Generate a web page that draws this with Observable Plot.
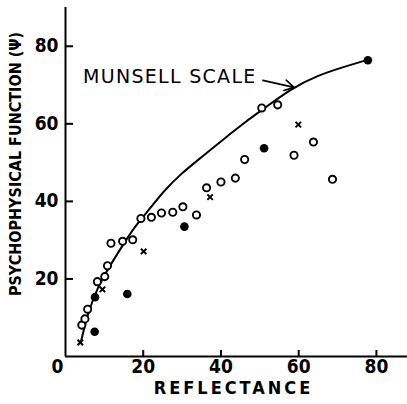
<!DOCTYPE html>
<html>
<head>
<meta charset="utf-8">
<script src="https://cdn.jsdelivr.net/npm/d3@7"></script>
<script src="https://cdn.jsdelivr.net/npm/@observablehq/plot@0.6"></script>
<style>
  html, body { margin: 0; padding: 0; background: #fff; }
  svg { display: block; }
</style>
</head>
<body>
<div id="chart"></div>
<script>
// ---- data ----
const openX = [4.2, 5.0, 5.7, 8.2, 10.1, 10.8, 11.7, 14.7, 17.3, 19.4, 22.1, 24.7, 27.6, 30.2, 33.7, 36.3, 40.0, 43.7, 46.1, 50.5, 54.6, 58.8, 63.8, 68.7];
const openY = [8.1, 9.7, 12.2, 19.3, 20.6, 23.4, 29.2, 29.7, 30.1, 35.6, 35.9, 37.0, 37.2, 38.6, 36.5, 43.5, 45.0, 46.0, 50.8, 64.1, 64.9, 51.9, 55.3, 45.7];
const filledX = [7.5, 7.6, 15.9, 30.6, 51.1, 77.8];
const filledY = [6.4, 15.3, 16.1, 33.5, 53.7, 76.4];
const crossX = [3.8, 9.5, 20.1, 37.2, 59.9];
const crossY = [3.6, 17.3, 27.1, 41.1, 59.8];
const munsellX = [3.9, 5.7, 8.2, 11.7, 16.0, 18.1, 22.0, 25.4, 29.7, 34.0, 38.2, 42.5, 46.8, 49.8, 58.0, 64.9, 71.7, 77.3];
const munsellY = [3.5, 11.0, 17.8, 23.9, 30.7, 33.8, 38.5, 42.8, 47.1, 50.6, 54.0, 57.5, 60.9, 63.0, 69.1, 72.5, 74.7, 76.4];
const xTicks = [0, 20, 40, 60, 80];
const yTicks = [20, 40, 60, 80];
const xLabel = "REFLECTANCE";
const yLabel = "PSYCHOPHYSICAL FUNCTION (Ψ)";
const curveLabel = "MUNSELL SCALE";

const zip = (xs, ys) => xs.map((x, i) => ({x, y: ys[i]}));
const openPts = zip(openX, openY);
const filledPts = zip(filledX, filledY);
const crossPts = zip(crossX, crossY);
const curvePts = zip(munsellX, munsellY);

const FONT = "'DejaVu Sans Condensed', 'DejaVu Sans', sans-serif";
const FONT_WIDE = "'DejaVu Sans', sans-serif";

const chart = Plot.plot({
  width: 407,
  height: 404,
  marginLeft: 65,
  marginRight: 0,
  marginTop: 7,
  marginBottom: 48,
  style: {background: "#fff", color: "#000", fontFamily: FONT},
  x: {domain: [0, 88]},
  y: {domain: [0, 90]},
  marks: [
    Plot.ruleX([0], {stroke: "#000", strokeWidth: 2}),
    Plot.ruleY([0], {stroke: "#000", strokeWidth: 2}),
    Plot.axisY({ticks: yTicks, tickSize: -8, tickPadding: 15, strokeWidth: 2, label: null,
      fontSize: 19, fontWeight: "bold", fontFamily: FONT}),
    Plot.axisX({ticks: xTicks.filter(d => d !== 0), tickSize: -6, tickPadding: 9, strokeWidth: 2, label: null,
      fontSize: 19, fontWeight: "bold", fontFamily: FONT}),
    Plot.axisX({ticks: [0], tickSize: 0, tickPadding: 3, dx: -8, label: null,
      fontSize: 19, fontWeight: "bold", fontFamily: FONT}),
    Plot.text([yLabel], {frameAnchor: "left", textAnchor: "middle", rotate: -90, dx: -50, dy: -18,
      fontSize: 16, fontWeight: "bold", fontFamily: FONT, fill: "#000"}),
    Plot.text([xLabel], {frameAnchor: "bottom", dy: 37, dx: -3,
      fontSize: 18, fontWeight: "bold", fontFamily: FONT, fill: "#000"}),
    Plot.line(curvePts, {x: "x", y: "y", curve: "basis", stroke: "#000", strokeWidth: 2}),
    Plot.text([curveLabel], {x: 4.5, y: 72.2, textAnchor: "start",
      fontSize: 19, fontFamily: FONT_WIDE, fill: "#000"}),
    Plot.arrow([curveLabel], {x1: 50.8, y1: 71.2, x2: 58.8, y2: 69.4, headLength: 10, strokeWidth: 1.6, stroke: "#000"}),
    Plot.dot(openPts, {x: "x", y: "y", r: 3.6, stroke: "#000", strokeWidth: 1.9, fill: "#fff"}),
    Plot.dot(filledPts, {x: "x", y: "y", r: 4.3, fill: "#000", stroke: "none"}),
    Plot.dot(crossPts, {x: "x", y: "y", r: 2.6, symbol: "times", stroke: "#000", strokeWidth: 2})
  ]
});

const sel = d3.select(chart).selectAll("text");
sel.filter(function () { return this.textContent === xLabel; }).attr("letter-spacing", 3);
sel.filter(function () { return this.textContent === curveLabel; }).attr("letter-spacing", 1.3);
document.getElementById("chart").appendChild(chart);
</script>
</body>
</html>
